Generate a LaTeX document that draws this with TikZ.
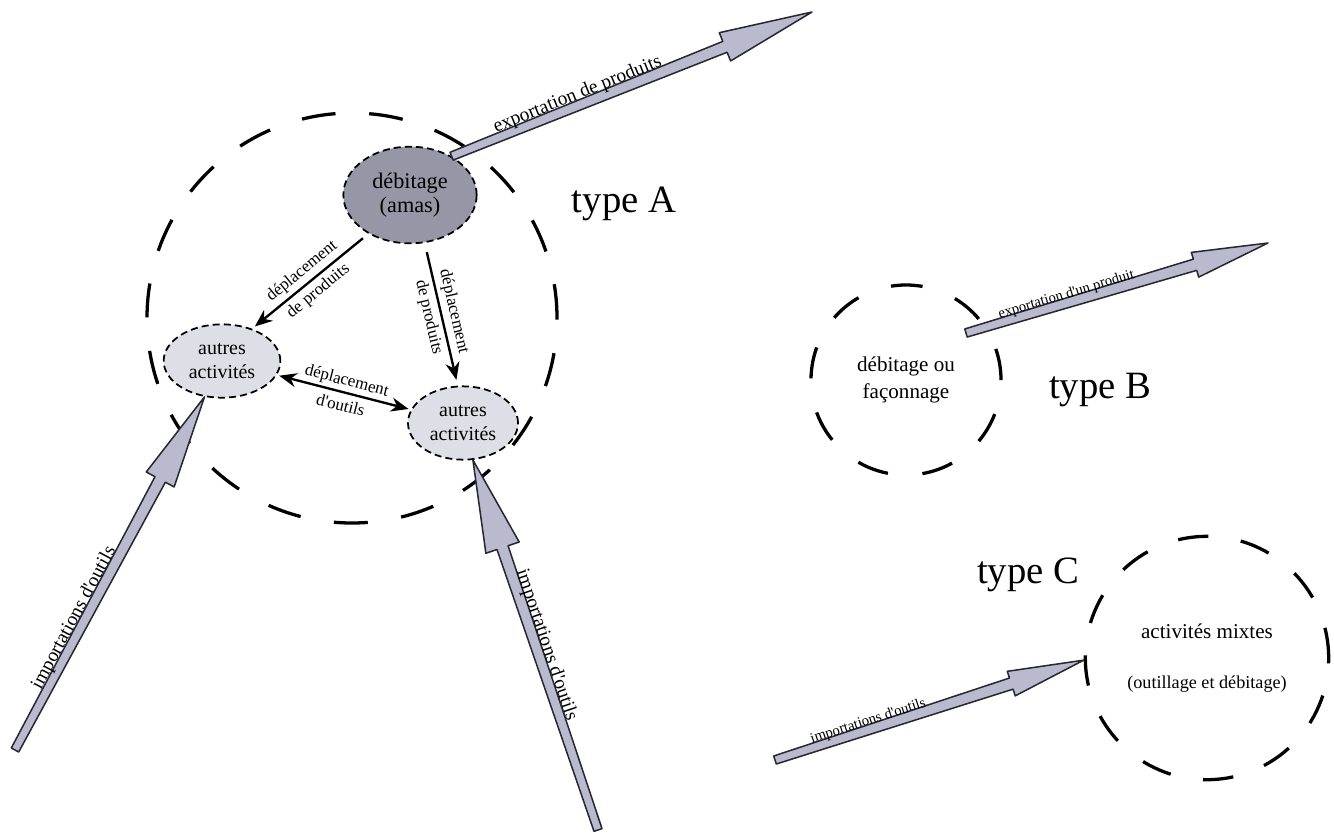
\documentclass[tikz,border=0pt]{standalone}
\usepackage{fontspec}
\setmainfont{Liberation Serif}
\usetikzlibrary{arrows.meta,calc,shapes.geometric}

\definecolor{amasfill}{RGB}{150,150,166}
\definecolor{actfill}{RGB}{222,222,230}
\definecolor{fluxfill}{RGB}{186,186,206}
\definecolor{fluxline}{RGB}{40,40,50}

\newcommand{\fatarrow}[4]{%
  \coordinate (neck) at ($(#2)!#3!(#1)$);
  \draw[flux] ($(#1)!3.6pt!90:(#2)$) -- ($(neck)!5pt!90:(#2)$)
    -- ($(neck)!#4!90:(#2)$) -- (#2) -- ($(neck)!#4!-90:(#2)$)
    -- ($(neck)!5pt!-90:(#2)$) -- ($(#1)!3.6pt!-90:(#2)$) -- cycle;
}

\begin{document}
\begin{tikzpicture}[
  x=0.03cm, y=-0.03cm,
  >={Stealth[length=15pt,width=12pt]},
  zone/.style={draw, circle, line width=2.8pt, inner sep=0pt, align=center},
  act/.style={draw, ellipse, dash pattern=on 6pt off 3.5pt, line width=1.5pt,
              inner sep=0pt, align=center},
  typelab/.style={anchor=base, font=\fontsize{33}{36}\selectfont},
  move/.style={line width=2pt, ->},
  movelab/.style={sloped, align=center, font=\fontsize{14.5}{22}\selectfont},
  flux/.style={draw=fluxline, fill=fluxfill, line width=1.3pt, line join=round},
  fluxlab/.style={sloped, above=1pt, inner sep=0pt, font=\fontsize{16.5}{18}\selectfont},
  fluxlabsmall/.style={fluxlab, font=\fontsize{12.5}{14}\selectfont}
]
\path[use as bounding box] (0,0) rectangle (1334,834);

\node[zone, minimum size=12.3cm, dash pattern=on 29pt off 28.8pt] (zoneA) at (352,318) {};
\node[act, fill=amasfill, minimum width=4cm, minimum height=2.9cm,
      font=\fontsize{19}{20}\selectfont] (deb) at (410,195) {débitage\\(amas)};
\node[act, fill=actfill, minimum width=3.5cm, minimum height=2.2cm,
      font=\fontsize{17}{20.5}\selectfont] (autL) at (222,361) {autres\\activités};
\node[act, fill=actfill, minimum width=3.3cm, minimum height=2.2cm,
      font=\fontsize{17}{20.5}\selectfont] (autR) at (463,423) {autres\\activités};
\node[typelab] (typeA) at (624,212) {type A};

\draw[move, shorten <=6pt, shorten >=3pt] (deb.-137) -- (autL.47)
  node[midway, movelab] {déplacement\\de produits};
\draw[move, shorten <=8pt, shorten >=5pt] (deb.-73) -- (autR.98)
  node[midway, movelab] {déplacement\\de produits};
\draw[move, <->, shorten >=2pt, shorten <=2pt] (autL) -- (autR)
  node[midway, movelab] {déplacement\\d\textquotesingle outils};

\coordinate (expAend) at (812,12);
\fatarrow{deb.43}{expAend}{80pt}{13pt}
\path (deb.43) -- (expAend) node[fluxlab, pos=0.36] {exportation de produits};

\coordinate (impLstart) at (15,750);
\fatarrow{impLstart}{autL.-116}{80pt}{13.5pt}
\path (impLstart) -- (autL.-116) node[fluxlab, pos=0.36] {importations d\textquotesingle outils};

\coordinate (impMstart) at (598,830);
\fatarrow{impMstart}{autR.-75}{79pt}{15pt}
\path (impMstart) -- (autR.-75) node[fluxlab, pos=0.49] {importations d\textquotesingle outils};

\node[zone, minimum size=5.7cm, dash pattern=on 27pt off 29.6pt,
      font=\fontsize{18}{23}\selectfont] (zoneB) at (906,380) {débitage ou\\façonnage};
\node[typelab] (typeB) at (1100,398) {type B};
\coordinate (expBstart) at (966,333);
\coordinate (expBend) at (1268,243);
\fatarrow{expBstart}{expBend}{65pt}{11pt}
\path (expBstart) -- (expBend) node[fluxlabsmall, pos=0.34] {exportation d\textquotesingle un produit};

\node[zone, minimum size=7.3cm, dash pattern=on 26pt off 28pt,
      font=\fontsize{18}{22}\selectfont] (zoneC) at (1207,658)
  {activités mixtes\\[21pt]{\fontsize{15.5}{18}\selectfont (outillage et débitage)}};
\node[typelab] (typeC) at (1028,583) {type C};
\coordinate (impCstart) at (775,760);
\fatarrow{impCstart}{zoneC.181}{65pt}{11pt}
\path (impCstart) -- (zoneC.181) node[fluxlabsmall, pos=0.31] {importations d\textquotesingle outils};
\end{tikzpicture}
\end{document}
